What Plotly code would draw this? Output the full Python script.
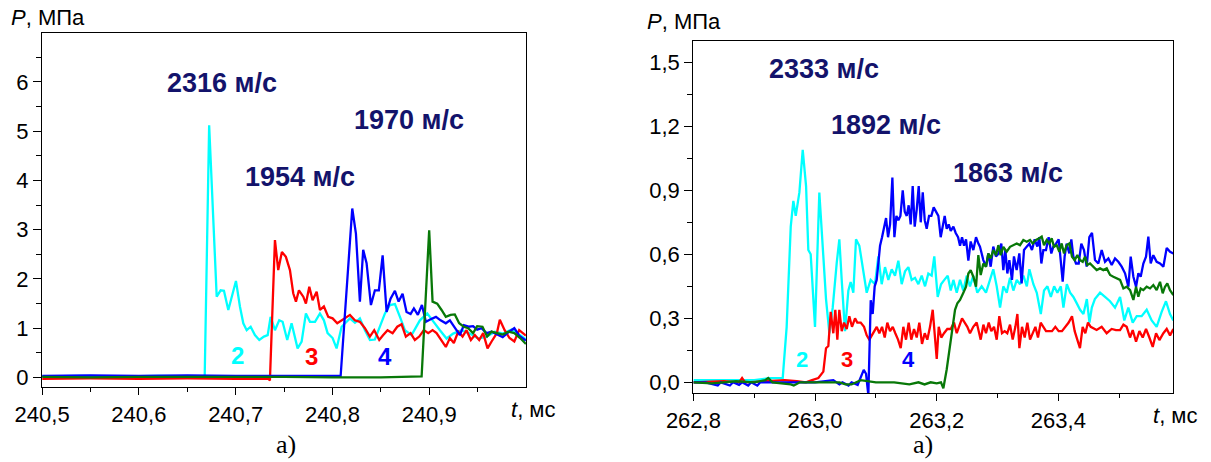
import plotly.graph_objects as go

# ---------------- Left panel data (t, ms ; P, MPa) ----------------
L2_t = [240.500, 240.540, 240.580, 240.620, 240.660, 240.668, 240.6726, 240.6745, 240.6804, 240.6845,
        240.6879, 240.6924, 240.7003, 240.7044, 240.7079, 240.7114, 240.7155, 240.7199, 240.7244, 240.7292,
        240.7331, 240.7361, 240.7406, 240.7450, 240.7485, 240.7533, 240.7578, 240.7640, 240.7682, 240.7726,
        240.7768, 240.7820, 240.7871, 240.7912, 240.7950, 240.8002, 240.8043, 240.8095, 240.8181, 240.8233,
        240.8284, 240.8336, 240.8388, 240.8439, 240.8491, 240.8543, 240.8594, 240.8646, 240.8698, 240.8749,
        240.8818, 240.8904, 240.8980, 240.9042, 240.9111, 240.9180, 240.9248, 240.9335, 240.9421, 240.9507,
        240.9593, 240.9679, 240.9765, 240.9851, 240.9920, 241.0000]
L2_p = [0.02, 0.03, 0.02, 0.03, 0.02, 0.02, 5.12, 4.30, 1.64, 1.77,
        1.76, 1.37, 1.96, 1.44, 1.10, 0.96, 1.03, 0.86, 0.76, 0.83,
        0.86, 1.23, 0.96, 1.16, 1.13, 0.76, 1.10, 0.59, 0.73, 1.30,
        1.13, 1.13, 1.30, 1.16, 0.90, 0.80, 0.59, 1.03, 1.20, 1.11,
        1.20, 0.96, 0.76, 0.77, 1.03, 1.30, 1.47, 1.49, 1.23, 0.96,
        0.86, 1.16, 1.30, 1.13, 0.96, 0.79, 0.89, 0.96, 0.89, 0.79,
        0.83, 0.93, 0.89, 0.97, 0.89, 0.77]

L3_t = [240.500, 240.550, 240.600, 240.650, 240.700, 240.7340, 240.7354, 240.7406, 240.7440, 240.7478,
        240.7519, 240.7561, 240.7595, 240.7623, 240.7654, 240.7699, 240.7726, 240.7761, 240.7795, 240.7837,
        240.7871, 240.7912, 240.7957, 240.8002, 240.8050, 240.8095, 240.8129, 240.8181, 240.8232, 240.8284,
        240.8336, 240.8387, 240.8432, 240.8484, 240.8525, 240.8570, 240.8622, 240.8670, 240.8715, 240.8759,
        240.8808, 240.8852, 240.8897, 240.8945, 240.8990, 240.9035, 240.9076, 240.9121, 240.9172, 240.9214,
        240.9255, 240.9300, 240.9345, 240.9386, 240.9431, 240.9472, 240.9517, 240.9558, 240.9603, 240.9645,
        240.9700, 240.9730, 240.9780, 240.9830, 240.9880, 240.9930, 241.0000]
L3_p = [-0.03, -0.02, -0.03, -0.02, -0.03, -0.03, -0.06, 2.79, 2.18, 2.55,
        2.45, 2.18, 1.71, 1.54, 1.77, 1.64, 1.50, 1.84, 1.57, 1.74,
        1.37, 1.44, 1.23, 1.20, 1.10, 1.16, 1.20, 1.27, 1.16, 1.13,
        1.00, 0.83, 0.96, 0.76, 0.86, 0.96, 0.90, 1.03, 1.08, 0.83,
        0.90, 0.76, 0.83, 0.96, 0.90, 0.96, 0.90, 0.76, 0.62, 0.80,
        0.70, 0.93, 0.83, 0.96, 0.76, 0.86, 0.76, 0.90, 0.59, 0.73,
        0.90, 1.17, 0.96, 0.80, 0.73, 0.96, 0.85]

L4_t = [240.500, 240.550, 240.600, 240.650, 240.700, 240.750, 240.8085, 240.8205, 240.8243, 240.8284,
        240.8318, 240.8353, 240.8398, 240.8439, 240.8480, 240.8519, 240.8560, 240.8601, 240.8646, 240.8684,
        240.8725, 240.8766, 240.8808, 240.8842, 240.8883, 240.8925, 240.8966, 240.9015, 240.9070, 240.9118,
        240.9172, 240.9214, 240.9265, 240.9317, 240.9358, 240.9407, 240.9454, 240.9496, 240.9541, 240.9593,
        240.9645, 240.9700, 240.9760, 240.9820, 240.9880, 240.9930, 241.0000]
L4_p = [0.03, 0.04, 0.03, 0.04, 0.03, 0.03, 0.03, 3.43, 2.92, 1.54,
        2.59, 2.32, 1.47, 1.77, 1.77, 2.48, 1.33, 1.60, 1.76, 1.54,
        1.70, 1.33, 1.29, 1.40, 1.27, 1.47, 1.13, 1.18, 1.23, 1.16,
        1.10, 1.16, 1.00, 0.86, 1.06, 1.03, 1.04, 0.97, 1.00, 0.90,
        0.93, 0.88, 0.82, 0.92, 1.00, 0.85, 0.75]

L1_t = [240.500, 240.550, 240.600, 240.650, 240.700, 240.750, 240.800, 240.850, 240.8922, 240.9000,
        240.9035, 240.9083, 240.9128, 240.9172, 240.9221, 240.9265, 240.9310, 240.9358, 240.9403, 240.9454,
        240.9496, 240.9551, 240.9599, 240.9645, 240.9700, 240.9760, 240.9820, 240.9880, 240.9940, 241.0000]
L1_p = [0.01, 0.00, 0.01, 0.01, 0.02, 0.01, 0.00, 0.00, 0.02, 2.99,
        1.54, 1.50, 1.37, 1.23, 1.27, 1.28, 1.10, 1.03, 1.00, 0.90,
        1.04, 1.03, 0.83, 0.93, 0.90, 0.87, 0.93, 0.90, 0.80, 0.68]

# ---------------- Right panel data ----------------
R2_t = [262.800, 262.850, 262.900, 262.925, 262.940, 262.9468, 262.9533, 262.9600, 262.9643, 262.9682,
        262.9742, 262.9797, 262.9852, 262.9889, 262.9928, 262.9999, 263.0070, 263.0126, 263.0180, 263.0235,
        263.0290, 263.0356, 263.0399, 263.0438, 263.0492, 263.0547, 263.0585, 263.0629, 263.0673, 263.0728,
        263.0783, 263.0849, 263.0914, 263.0985, 263.1040, 263.1095, 263.1150, 263.1205, 263.1260, 263.1314,
        263.1369, 263.1424, 263.1479, 263.1534, 263.1588, 263.1643, 263.1698, 263.1753, 263.1808, 263.1862,
        263.1917, 263.1960, 263.2016, 263.2071, 263.2125, 263.2181, 263.2230, 263.2274, 263.2329, 263.2383,
        263.2437, 263.2493, 263.2547, 263.2601, 263.2667, 263.2739, 263.2810, 263.2876, 263.2930, 263.2986,
        263.3041, 263.3095, 263.3151, 263.3205, 263.3260, 263.3316, 263.3370, 263.3425, 263.3481, 263.3523,
        263.3589, 263.3645, 263.3711, 263.3764, 263.3820, 263.3876, 263.3930, 263.3984, 263.4040, 263.4083,
        263.4139, 263.4193, 263.4247, 263.4303, 263.4357, 263.4412, 263.4468, 263.4511, 263.4550, 263.4600,
        263.4685, 263.4767, 263.4849, 263.4931, 263.5014, 263.5084, 263.5150, 263.5222, 263.5288, 263.5369,
        263.5452, 263.5534, 263.5616, 263.5698, 263.5769, 263.5835, 263.5890]
R2_p = [0.01, 0.01, 0.01, 0.02, 0.02, 0.02, 0.26, 0.73, 0.85, 0.78,
        0.89, 1.09, 0.92, 0.62, 0.60, 0.26, 0.89, 0.62, 0.39, 0.23,
        0.35, 0.56, 0.67, 0.48, 0.24, 0.43, 0.47, 0.42, 0.67, 0.64,
        0.54, 0.42, 0.48, 0.46, 0.59, 0.46, 0.54, 0.48, 0.53, 0.50,
        0.57, 0.46, 0.52, 0.54, 0.48, 0.49, 0.46, 0.50, 0.45, 0.51,
        0.50, 0.59, 0.40, 0.46, 0.48, 0.50, 0.43, 0.48, 0.42, 0.48,
        0.43, 0.50, 0.45, 0.50, 0.42, 0.45, 0.42, 0.48, 0.53, 0.45,
        0.35, 0.45, 0.42, 0.49, 0.43, 0.48, 0.46, 0.50, 0.45, 0.53,
        0.46, 0.42, 0.32, 0.43, 0.45, 0.40, 0.45, 0.42, 0.45, 0.35,
        0.46, 0.42, 0.40, 0.37, 0.34, 0.32, 0.39, 0.28, 0.35, 0.39,
        0.42, 0.40, 0.38, 0.35, 0.40, 0.29, 0.35, 0.28, 0.31, 0.31,
        0.34, 0.29, 0.26, 0.33, 0.38, 0.32, 0.29]

R3_t = [262.800, 262.850, 262.875, 262.880, 262.885, 262.920, 262.950, 262.970, 262.985, 262.995,
        263.0054, 263.0136, 263.0180, 263.0218, 263.0257, 263.0300, 263.0333, 263.0366, 263.0399, 263.0438,
        263.0476, 263.0520, 263.0563, 263.0607, 263.0657, 263.0694, 263.0750, 263.0805, 263.0849, 263.0892,
        263.0958, 263.1014, 263.1057, 263.1101, 263.1145, 263.1188, 263.1232, 263.1277, 263.1319, 263.1364,
        263.1408, 263.1451, 263.1495, 263.1539, 263.1582, 263.1627, 263.1671, 263.1714, 263.1758, 263.1803,
        263.1845, 263.1890, 263.1934, 263.1967, 263.2000, 263.2033, 263.2075, 263.2120, 263.2174, 263.2230,
        263.2284, 263.2329, 263.2371, 263.2416, 263.2460, 263.2503, 263.2547, 263.2601, 263.2657, 263.2723,
        263.2767, 263.2810, 263.2855, 263.2897, 263.2942, 263.2986, 263.3029, 263.3073, 263.3117, 263.3160,
        263.3205, 263.3249, 263.3293, 263.3326, 263.3359, 263.3402, 263.3446, 263.3490, 263.3534, 263.3578,
        263.3622, 263.3665, 263.3709, 263.3753, 263.3797, 263.3840, 263.3895, 263.3950, 263.4005, 263.4059,
        263.4114, 263.4169, 263.4224, 263.4268, 263.4311, 263.4355, 263.4399, 263.4443, 263.4487, 263.4531,
        263.4629, 263.4712, 263.4794, 263.4876, 263.4947, 263.5014, 263.5069, 263.5123, 263.5178, 263.5222,
        263.5277, 263.5332, 263.5387, 263.5441, 263.5496, 263.5551, 263.5606, 263.5661, 263.5726, 263.5781,
        263.5836, 263.5890]
R3_p = [0.00, 0.005, 0.00, 0.02, 0.00, 0.005, 0.01, 0.005, 0.00, 0.01,
        0.02, 0.05, 0.16, 0.17, 0.33, 0.23, 0.34, 0.20, 0.34, 0.24,
        0.28, 0.25, 0.31, 0.26, 0.30, 0.28, 0.28, 0.26, 0.22, 0.20,
        0.23, 0.26, 0.23, 0.26, 0.21, 0.28, 0.24, 0.26, 0.23, 0.20,
        0.16, 0.26, 0.20, 0.28, 0.20, 0.25, 0.21, 0.28, 0.18, 0.23,
        0.20, 0.26, 0.34, 0.20, 0.11, 0.26, 0.21, 0.23, 0.25, 0.25,
        0.28, 0.23, 0.26, 0.30, 0.28, 0.26, 0.23, 0.26, 0.28, 0.20,
        0.27, 0.23, 0.28, 0.24, 0.26, 0.20, 0.31, 0.23, 0.24, 0.23,
        0.27, 0.20, 0.26, 0.32, 0.16, 0.26, 0.21, 0.28, 0.20, 0.23,
        0.26, 0.21, 0.28, 0.26, 0.24, 0.24, 0.24, 0.26, 0.24, 0.24,
        0.26, 0.28, 0.31, 0.24, 0.20, 0.16, 0.26, 0.23, 0.28, 0.26,
        0.245, 0.26, 0.23, 0.25, 0.245, 0.245, 0.27, 0.26, 0.21, 0.245,
        0.19, 0.24, 0.21, 0.25, 0.21, 0.166, 0.23, 0.198, 0.23, 0.25,
        0.22, 0.25]

R4_t = [262.800, 262.820, 262.840, 262.845, 262.860, 262.865, 262.875, 262.880, 262.890, 262.895,
        262.905, 262.910, 263.000, 263.030, 263.040, 263.045, 263.055, 263.060, 263.070, 263.075,
        263.0800, 263.0838, 263.0876, 263.0915, 263.0947, 263.0980, 263.1013, 263.1041, 263.1068, 263.1101,
        263.1134, 263.1167, 263.1200, 263.1233, 263.1271, 263.1304, 263.1337, 263.1370, 263.1403, 263.1441,
        263.1474, 263.1507, 263.1539, 263.1572, 263.1605, 263.1638, 263.1671, 263.1704, 263.1737, 263.1770,
        263.1803, 263.1835, 263.1874, 263.1912, 263.1950, 263.1989, 263.2027, 263.2065, 263.2098, 263.2131,
        263.2164, 263.2197, 263.2230, 263.2274, 263.2312, 263.2351, 263.2383, 263.2416, 263.2449, 263.2482,
        263.2520, 263.2558, 263.2602, 263.2646, 263.2685, 263.2711, 263.2766, 263.2810, 263.2848, 263.2887,
        263.2930, 263.2974, 263.3018, 263.3062, 263.3095, 263.3128, 263.3161, 263.3194, 263.3237, 263.3270,
        263.3314, 263.3358, 263.3396, 263.3435, 263.3479, 263.3522, 263.3566, 263.3610, 263.3654, 263.3687,
        263.3720, 263.3753, 263.3796, 263.3840, 263.3884, 263.3917, 263.3961, 263.4005, 263.4038, 263.4071,
        263.4103, 263.4136, 263.4180, 263.4213, 263.4246, 263.4290, 263.4334, 263.4377, 263.4421, 263.4465,
        263.4509, 263.4553, 263.4602, 263.4657, 263.4712, 263.4767, 263.4822, 263.4877, 263.4931, 263.4986,
        263.5041, 263.5096, 263.5151, 263.5189, 263.5233, 263.5277, 263.5315, 263.5353, 263.5397, 263.5441,
        263.5479, 263.5518, 263.5561, 263.5616, 263.5671, 263.5726, 263.5781, 263.5836, 263.5890]
R4_p = [0.00, 0.00, -0.015, 0.00, -0.015, 0.00, -0.012, 0.00, -0.015, 0.00,
        -0.015, 0.00, 0.00, 0.01, -0.01, 0.00, -0.015, 0.00, -0.012, 0.02,
        0.058, 0.04, -0.06, 0.385, 0.32, 0.45, 0.48, 0.56, 0.64, 0.68,
        0.73, 0.77, 0.68, 0.74, 0.96, 0.68, 0.78, 0.76, 0.78, 0.90,
        0.80, 0.78, 0.83, 0.74, 0.92, 0.73, 0.81, 0.92, 0.75, 0.89,
        0.76, 0.72, 0.78, 0.78, 0.82, 0.80, 0.78, 0.68, 0.74, 0.78,
        0.72, 0.74, 0.71, 0.73, 0.70, 0.68, 0.64, 0.68, 0.64, 0.67,
        0.57, 0.66, 0.62, 0.68, 0.65, 0.636, 0.573, 0.542, 0.604, 0.542,
        0.636, 0.59, 0.604, 0.65, 0.526, 0.62, 0.51, 0.573, 0.48, 0.59,
        0.526, 0.604, 0.464, 0.62, 0.636, 0.65, 0.62, 0.67, 0.636, 0.68,
        0.557, 0.62, 0.62, 0.68, 0.604, 0.636, 0.65, 0.67, 0.573, 0.472,
        0.59, 0.65, 0.604, 0.67, 0.59, 0.557, 0.557, 0.65, 0.62, 0.542,
        0.68, 0.70, 0.573, 0.557, 0.62, 0.565, 0.581, 0.55, 0.581, 0.565,
        0.542, 0.511, 0.448, 0.589, 0.495, 0.448, 0.511, 0.495, 0.557, 0.589,
        0.683, 0.557, 0.596, 0.565, 0.557, 0.542, 0.63, 0.612, 0.604]

R1_t = [262.800, 262.830, 262.850, 262.870, 262.900, 262.918, 262.923, 262.930, 262.960, 262.965,
        262.975, 263.000, 263.040, 263.050, 263.060, 263.075, 263.100, 263.130, 263.155, 263.170,
        263.180, 263.190, 263.200, 263.207, 263.2109, 263.2164, 263.2208, 263.2246, 263.2301, 263.2339,
        263.2383, 263.2438, 263.2482, 263.2520, 263.2558, 263.2602, 263.2646, 263.2684, 263.2723, 263.2767,
        263.2810, 263.2849, 263.2887, 263.2931, 263.2975, 263.3013, 263.3052, 263.3095, 263.3150, 263.3205,
        263.3260, 263.3315, 263.3369, 263.3424, 263.3479, 263.3534, 263.3578, 263.3632, 263.3687, 263.3726,
        263.3764, 263.3808, 263.3852, 263.3890, 263.3928, 263.3972, 263.4016, 263.4054, 263.4093, 263.4137,
        263.4181, 263.4224, 263.4268, 263.4312, 263.4356, 263.4400, 263.4438, 263.4476, 263.4520, 263.4575,
        263.4630, 263.4685, 263.4740, 263.4795, 263.4850, 263.4904, 263.4959, 263.5014, 263.5069, 263.5124,
        263.5179, 263.5233, 263.5277, 263.5315, 263.5353, 263.5397, 263.5452, 263.5507, 263.5561, 263.5616,
        263.5671, 263.5715, 263.5753, 263.5791, 263.5835, 263.5890]
R1_p = [0.00, -0.005, 0.00, 0.005, 0.00, 0.01, 0.02, 0.00, -0.01, -0.015,
        0.00, 0.00, 0.00, -0.01, -0.01, 0.01, 0.00, 0.00, -0.01, 0.00,
        -0.01, 0.00, -0.005, 0.00, -0.028, 0.06, 0.15, 0.245, 0.34, 0.37,
        0.386, 0.42, 0.448, 0.51, 0.526, 0.495, 0.448, 0.596, 0.503, 0.557,
        0.542, 0.604, 0.581, 0.62, 0.596, 0.643, 0.596, 0.635, 0.612, 0.635,
        0.643, 0.651, 0.643, 0.667, 0.659, 0.667, 0.651, 0.667, 0.675, 0.683,
        0.643, 0.667, 0.651, 0.675, 0.635, 0.643, 0.612, 0.651, 0.604, 0.643,
        0.651, 0.589, 0.573, 0.596, 0.573, 0.565, 0.589, 0.55, 0.557, 0.542,
        0.526, 0.534, 0.526, 0.534, 0.503, 0.495, 0.487, 0.48, 0.44, 0.448,
        0.432, 0.386, 0.448, 0.401, 0.44, 0.432, 0.448, 0.44, 0.456, 0.432,
        0.471, 0.417, 0.448, 0.464, 0.432, 0.409]

# ---------------- ticks / labels ----------------
L_xticks = [240.5, 240.6, 240.7, 240.8, 240.9]
L_xlabels = ["240,5", "240,6", "240,7", "240,8", "240,9"]
L_xminor = [240.55, 240.65, 240.75, 240.85, 240.95]
L_yticks = [0, 1, 2, 3, 4, 5, 6]
L_ylabels = ["0", "1", "2", "3", "4", "5", "6"]
L_yminor = [0.5, 1.5, 2.5, 3.5, 4.5, 5.5, 6.5]

R_xticks = [262.8, 263.0, 263.2, 263.4]
R_xlabels = ["262,8", "263,0", "263,2", "263,4"]
R_xminor = [262.9, 263.1, 263.3, 263.5]
R_yticks = [0.0, 0.3, 0.6, 0.9, 1.2, 1.5]
R_ylabels = ["0,0", "0,3", "0,6", "0,9", "1,2", "1,5"]
R_yminor = [0.15, 0.45, 0.75, 1.05, 1.35]

L_speeds = ["2316 м/с", "1954 м/с", "1970 м/с"]
L_speed_pos = [(240.686, 5.97), (240.767, 4.07), (240.8795, 5.22)]
R_speeds = ["2333 м/с", "1892 м/с", "1863 м/с"]
R_speed_pos = [(263.015, 1.469), (263.117, 1.206), (263.318, 0.983)]
series_labels = ["2", "3", "4"]
L_label_pos = [(240.702, 0.44), (240.778, 0.42), (240.854, 0.42)]
R_label_pos = [(262.978, 0.105), (263.052, 0.105), (263.154, 0.105)]

C_CYAN = "#00FFFF"
C_RED = "#FF0000"
C_BLUE = "#0000FF"
C_GREEN = "#087808"
C_NAVY = "#13136B"
label_colors = [C_CYAN, C_RED, C_BLUE]

FONT = "Liberation Sans, Arial, sans-serif"
LW = 2.3

fig = go.Figure()
for t, p, c in [(L2_t, L2_p, C_CYAN), (L3_t, L3_p, C_RED), (L4_t, L4_p, C_BLUE), (L1_t, L1_p, C_GREEN)]:
    fig.add_trace(go.Scatter(x=t, y=p, mode="lines", line=dict(color=c, width=LW),
                             xaxis="x", yaxis="y", showlegend=False, hoverinfo="skip"))
for t, p, c in [(R2_t, R2_p, C_CYAN), (R3_t, R3_p, C_RED), (R4_t, R4_p, C_BLUE), (R1_t, R1_p, C_GREEN)]:
    fig.add_trace(go.Scatter(x=t, y=p, mode="lines", line=dict(color=c, width=LW),
                             xaxis="x2", yaxis="y2", showlegend=False, hoverinfo="skip"))

def axis(domain, rng, tickvals, ticktext, minor_vals, anchor, ticklen, minorlen):
    return dict(domain=domain, range=rng, anchor=anchor, showgrid=False, zeroline=False,
                automargin=False,
                showline=True, mirror=True, linecolor="black", linewidth=1.3,
                ticks="outside", ticklen=ticklen, tickwidth=1.3, tickcolor="black",
                tickmode="array", tickvals=tickvals, ticktext=ticktext,
                tickfont=dict(family=FONT, size=22, color="black"),
                minor=dict(tickmode="array", tickvals=minor_vals, ticks="outside",
                           ticklen=minorlen, tickwidth=1.2, tickcolor="black", showgrid=False))

anns = []
for txt, (x, y) in zip(L_speeds, L_speed_pos):
    anns.append(dict(x=x, y=y, xref="x", yref="y", text="<b>%s</b>" % txt, showarrow=False,
                     font=dict(family=FONT, size=27, color=C_NAVY)))
for txt, (x, y) in zip(R_speeds, R_speed_pos):
    anns.append(dict(x=x, y=y, xref="x2", yref="y2", text="<b>%s</b>" % txt, showarrow=False,
                     font=dict(family=FONT, size=27, color=C_NAVY)))
for txt, (x, y), c in zip(series_labels, L_label_pos, label_colors):
    anns.append(dict(x=x, y=y, xref="x", yref="y", text="<b>%s</b>" % txt, showarrow=False,
                     font=dict(family=FONT, size=24, color=c)))
for txt, (x, y), c in zip(series_labels, R_label_pos, label_colors):
    anns.append(dict(x=x, y=y, xref="x2", yref="y2", text="<b>%s</b>" % txt, showarrow=False,
                     font=dict(family=FONT, size=22, color=c)))

# axis titles and panel captions
for x, y in [(0.0074, 0.963), (0.5324, 0.953)]:
    anns.append(dict(x=x, y=y, xref="paper", yref="paper", xanchor="left", yanchor="middle",
                     text="<i>P</i>, МПа", showarrow=False, font=dict(family=FONT, size=22, color="black")))
for x, y in [(0.4203, 0.1126), (0.9505, 0.1017)]:
    anns.append(dict(x=x, y=y, xref="paper", yref="paper", xanchor="left", yanchor="middle",
                     text="<i>t</i>, мс", showarrow=False, font=dict(family=FONT, size=22, color="black")))
for x in [0.2362, 0.7622]:
    anns.append(dict(x=x, y=0.005, xref="paper", yref="paper", xanchor="center", yanchor="bottom",
                     text="а)", showarrow=False, borderpad=0,
                     font=dict(family="Liberation Serif, Times New Roman, serif", size=26, color="black")))

fig.update_layout(
    width=1211, height=462, margin=dict(l=0, r=0, t=0, b=0, autoexpand=False),
    paper_bgcolor="white", plot_bgcolor="white", showlegend=False,
    xaxis=axis([0.0348, 0.4343], [240.5, 241.0], L_xticks, L_xlabels, L_xminor, "y", 7, 4),
    yaxis=axis([0.1617, 0.9292], [-0.2, 7.0], L_yticks, L_ylabels, L_yminor, "x", 8, 5),
    xaxis2=axis([0.5726, 0.9689], [262.8, 263.589], R_xticks, R_xlabels, R_xminor, "y2", 7, 4),
    yaxis2=axis([0.1494, 0.9113], [-0.05, 1.6], R_yticks, R_ylabels, R_yminor, "x2", 8, 5),
    annotations=anns,
)

fig.write_html("out.html")
